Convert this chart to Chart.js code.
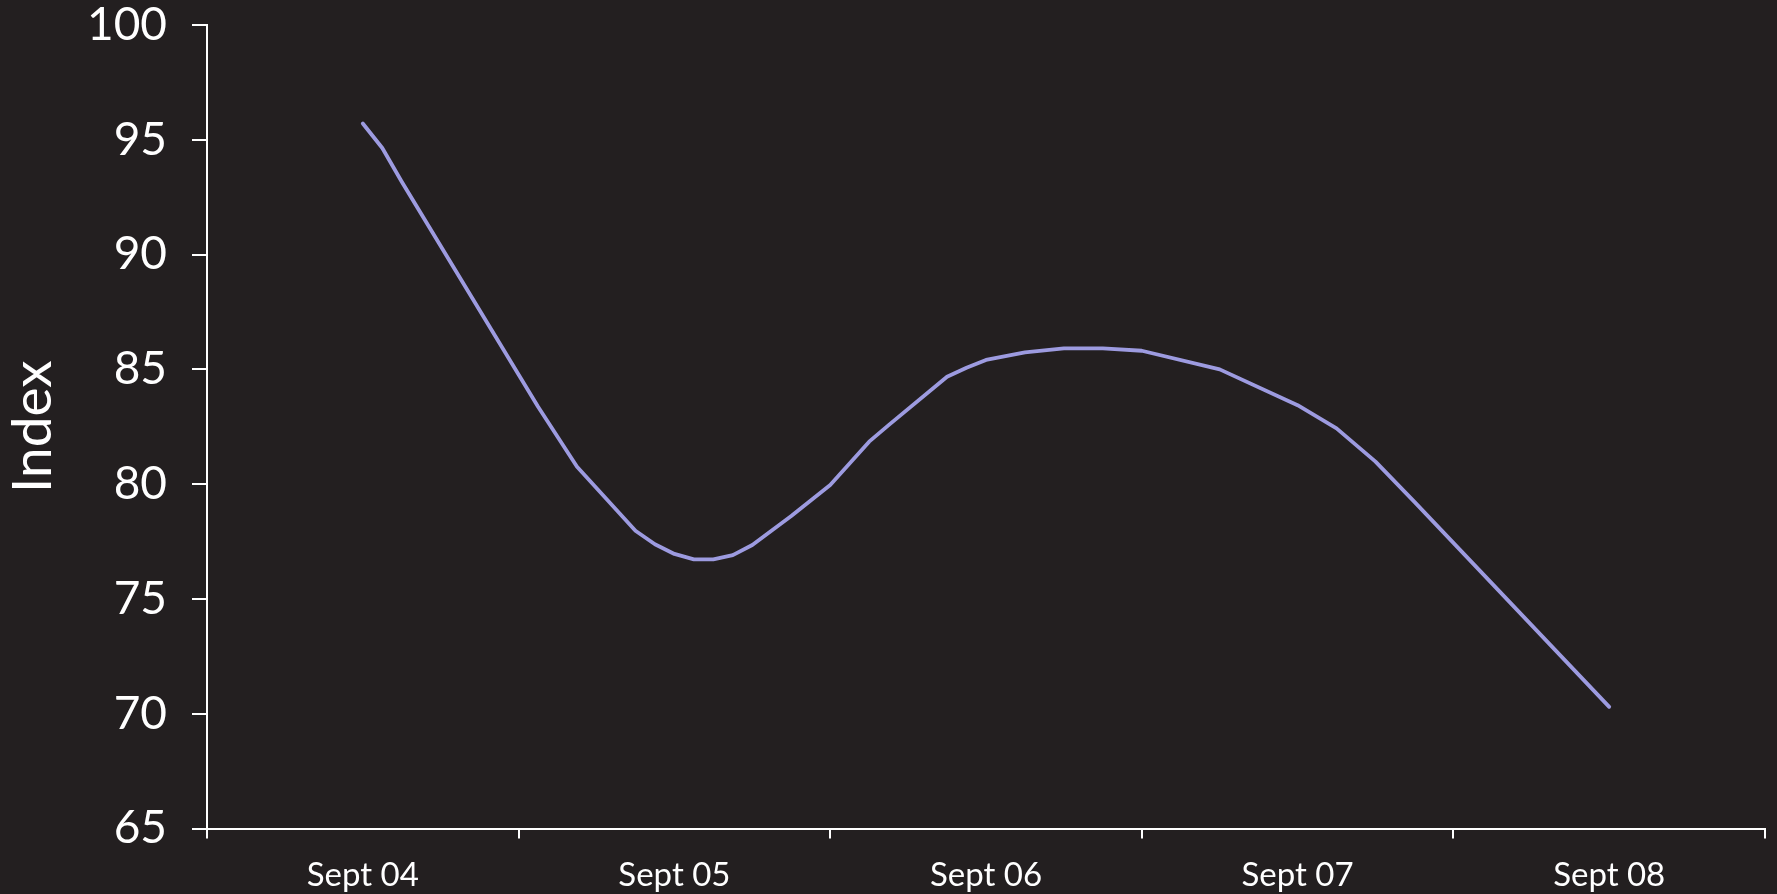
<!DOCTYPE html>
<html>
<head>
<meta charset="utf-8">
<title>Index</title>
<script src="https://cdn.jsdelivr.net/npm/chart.js@4/dist/chart.umd.min.js"></script>
<style>
  html, body { margin: 0; padding: 0; background: #231f20; }
  canvas { display: block; }
</style>
</head>
<body>
<canvas id="chart" width="1777" height="894"></canvas>
<script>
// Day labels, one per band on the x axis
const dayLabels = ['Sept 04', 'Sept 05', 'Sept 06', 'Sept 07', 'Sept 08'];

// Observation times, hours since Sept 04 00:00
const hours = [
  12, 13.5, 15, 25.5, 28.5, 33, 34.5, 36, 37.5, 39, 40.5, 42, 45, 48, 51, 52.5,
  57, 58.5, 60, 63, 66, 69, 72, 78, 84, 87, 90, 93, 108
];

// Index readings at those times
const indexValues = [
  95.71, 94.64, 93.17, 83.37, 80.76, 77.97, 77.38, 76.96, 76.72, 76.72, 76.91, 77.35, 78.61, 79.96, 81.85, 82.57,
  84.68, 85.07, 85.41, 85.74, 85.91, 85.91, 85.81, 85.0, 83.44, 82.43, 80.98, 79.23, 70.30
];

// y axis range and step
const yMin = 65, yMax = 100, yStep = 5;

const points = hours.map((h, i) => ({ x: h, y: indexValues[i] }));

const bgPlugin = {
  id: 'bg',
  beforeDraw(chart) {
    const c = chart.ctx;
    c.save();
    c.fillStyle = '#231f20';
    c.fillRect(0, 0, chart.width, chart.height);
    c.restore();
  }
};

function build() {
  new Chart(document.getElementById('chart'), {
    type: 'line',
    data: {
      labels: dayLabels,
      datasets: [{
        label: 'Index',
        data: points,
        xAxisID: 'xh',
        borderColor: '#9d9be0',
        borderWidth: 3.8,
        borderCapStyle: 'round',
        borderJoinStyle: 'round',
        tension: 0,
        pointRadius: 0,
        fill: false
      }]
    },
    options: {
      responsive: false,
      animation: false,
      devicePixelRatio: 1,
      layout: { padding: { top: 25, right: 12, left: 0, bottom: 0 } },
      plugins: { legend: { display: false }, tooltip: { enabled: false } },
      scales: {
        x: {
          type: 'category',
          position: 'bottom',
          offset: true,
          grid: {
            offset: true,
            drawOnChartArea: false,
            drawTicks: true,
            tickLength: 10,
            color: '#ffffff',
            lineWidth: 2
          },
          border: { display: true, color: '#ffffff', width: 2 },
          ticks: {
            color: '#ffffff',
            font: { family: 'Lato', size: 33 },
            padding: 17,
            maxRotation: 0,
            autoSkip: false
          },
          afterFit(scale) {
            scale.height = 65.5;
            scale.paddingLeft = 0;
            scale.paddingRight = 0;
          }
        },
        xh: {
          type: 'linear',
          position: 'bottom',
          display: false,
          min: 0,
          max: 120
        },
        y: {
          type: 'linear',
          min: yMin,
          max: yMax,
          grid: {
            drawOnChartArea: false,
            drawTicks: true,
            tickLength: 15,
            color: '#ffffff',
            lineWidth: 2
          },
          border: { display: true, color: '#ffffff', width: 2 },
          ticks: {
            stepSize: yStep,
            color: '#ffffff',
            font: { family: 'Lato', size: 46 },
            padding: 25
          },
          title: {
            display: true,
            text: 'Index',
            color: '#ffffff',
            font: { family: 'Lato', size: 55 },
            padding: { top: 0, bottom: 0 }
          },
          afterFit(scale) {
            scale.width = 207;
            scale.paddingTop = 0;
            scale.paddingBottom = 0;
          }
        }
      }
    },
    plugins: [bgPlugin]
  });
}

if (document.fonts && document.fonts.load) {
  Promise.all([
    document.fonts.load('33px Lato'),
    document.fonts.load('46px Lato'),
    document.fonts.load('55px Lato')
  ]).then(build, build);
} else {
  build();
}
</script>
</body>
</html>
